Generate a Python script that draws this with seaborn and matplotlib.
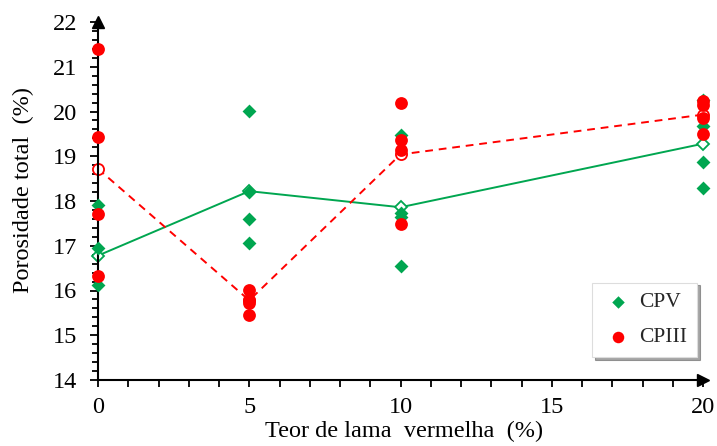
import numpy as np
import pandas as pd
import matplotlib
matplotlib.use("Agg")
import matplotlib.pyplot as plt
from matplotlib.ticker import MultipleLocator
import seaborn as sns

# ---- data ----
teor_levels = [0, 5, 10, 20]
cpv_x = [0, 0, 0, 5, 5, 5, 5, 10, 10, 10, 10, 20, 20, 20, 20]
cpv_y = [17.91, 16.96, 16.12, 20.02, 18.21, 17.60, 17.07,
         19.47, 17.74, 17.65, 16.55, 20.25, 19.67, 18.88, 18.30]
cpiii_x = [0, 0, 0, 0, 5, 5, 5, 5, 10, 10, 10, 10, 20, 20, 20, 20]
cpiii_y = [21.40, 19.43, 17.70, 16.33, 16.01, 15.79, 15.73, 15.45,
           20.19, 19.37, 19.15, 17.49, 20.23, 20.15, 19.85, 19.50]
cpv_mean = [16.78, 18.22, 17.86, 19.28]
cpiii_mean = [18.72, 15.78, 19.04, 19.93]
x_ticks = [0, 5, 10, 15, 20]
y_ticks = [14, 15, 16, 17, 18, 19, 20, 21, 22]

GREEN = "#00A650"
RED = "#FF0000"

sns.set_theme(style="white")
plt.rcParams["font.family"] = ["Liberation Serif", "DejaVu Serif"]

df_cpv = pd.DataFrame({"teor": cpv_x, "por": cpv_y})
df_cpiii = pd.DataFrame({"teor": cpiii_x, "por": cpiii_y})
df_mcpv = pd.DataFrame({"teor": teor_levels, "por": cpv_mean})
df_mcpiii = pd.DataFrame({"teor": teor_levels, "por": cpiii_mean})

fig = plt.figure(figsize=(7.17, 4.46), dpi=100)
ax = fig.add_axes([98 / 717, 66 / 446, 605 / 717, 358 / 446])

# mean lines with open markers
sns.lineplot(data=df_mcpv, x="teor", y="por", ax=ax, color=GREEN, lw=1.4,
             marker="D", markersize=6.5, markerfacecolor="white",
             markeredgecolor=GREEN, markeredgewidth=1.3, clip_on=False, zorder=2)
sns.lineplot(data=df_mcpiii, x="teor", y="por", ax=ax, color=RED, lw=1.4,
             linestyle=(0, (4, 3)), marker="o", markersize=8,
             markerfacecolor="white", markeredgecolor=RED,
             markeredgewidth=1.3, clip_on=False, zorder=2)

# individual points
sns.scatterplot(data=df_cpv, x="teor", y="por", ax=ax, color=GREEN, marker="D",
                s=50, linewidth=0, label="CPV", clip_on=False, zorder=3)
sns.scatterplot(data=df_cpiii, x="teor", y="por", ax=ax, color=RED, marker="o",
                s=85, linewidth=0, label="CPIII", clip_on=False, zorder=4)

ax.set_xlim(0, 20)
ax.set_ylim(14, 22)
ax.set_xticks(x_ticks)
ax.set_yticks(y_ticks)
ax.xaxis.set_minor_locator(MultipleLocator(1))
ax.yaxis.set_minor_locator(MultipleLocator(0.2))
ax.tick_params(axis="both", which="both", direction="out", colors="black",
               labelsize=17.5, width=1.3)
ax.tick_params(axis="y", which="major", length=6, pad=9, left=True)
ax.tick_params(axis="y", which="minor", length=4, left=True)
ax.tick_params(axis="x", which="major", length=5, pad=7, bottom=True)
ax.tick_params(axis="x", which="minor", length=5, bottom=True)

for side in ["top", "right"]:
    ax.spines[side].set_visible(False)
for side in ["left", "bottom"]:
    ax.spines[side].set_color("black")
    ax.spines[side].set_linewidth(1.5)

# axis arrows
ax.plot(0, 1, marker="^", color="black", markersize=8, transform=ax.transAxes,
        clip_on=False, zorder=6)
ax.plot(1, 0, marker=">", color="black", markersize=8, transform=ax.transAxes,
        clip_on=False, zorder=6)

ax.set_xlabel("Teor de lama  vermelha  (%)", fontsize=17.5, color="black")
ax.set_ylabel("Porosidade total  (%)", fontsize=17.5, color="black")
ax.xaxis.set_label_coords(0.506, -0.115)
ax.yaxis.set_label_coords(-0.105, 0.53)

leg = ax.legend(loc="lower right", bbox_to_anchor=(0.99, 0.064), fontsize=15.5,
                frameon=True, fancybox=False, shadow=True, handletextpad=0.25,
                labelspacing=0.7, borderpad=0.45, handlelength=1.5,
                markerscale=0.9, borderaxespad=0)
leg.get_frame().set_edgecolor("#dddddd")
leg.get_frame().set_linewidth(0.8)

fig.savefig("out.png", dpi=100)
